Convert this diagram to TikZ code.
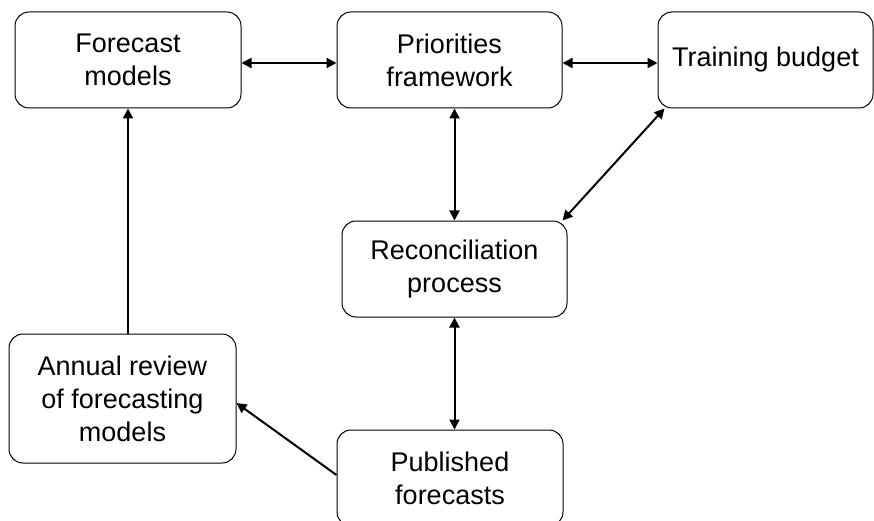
\documentclass[tikz,border=0pt]{standalone}
\usepackage{fontspec}
\setmainfont{Liberation Sans}
\usetikzlibrary{arrows.meta,calc}
\begin{document}
\begin{tikzpicture}[x=1pt,y=-1pt,
  box/.style={draw=black, line width=1pt, rounded corners=14pt, align=center,
    inner sep=0pt, font=\fontsize{27}{33}\selectfont, text=black},
  link/.style={line width=2pt, {Triangle[length=10pt,width=10pt]}-{Triangle[length=10pt,width=10pt]}},
  onelink/.style={line width=2pt, -{Triangle[length=10pt,width=10pt]}}]
\useasboundingbox[fill=white] (0,0) rectangle (874,521);
\node[box, minimum width=226pt, minimum height=96pt] (fm) at (128,60) {Forecast\\models};
\node[box, minimum width=225pt, minimum height=96pt] (pf) at (449.5,60) {Priorities\\framework};
\node[box, minimum width=215pt, minimum height=96pt] (tb) at (765.5,60) {Training budget};
\node[box, minimum width=225pt, minimum height=96pt] (rc) at (454.5,269) {Reconciliation\\process};
\node[box, minimum width=227pt, minimum height=129pt] (ar) at (122.5,398.5) {Annual review\\of forecasting\\models};
\node[box, minimum width=226pt, minimum height=96pt] (pb) at (450,478) {Published\\forecasts};
\draw[link] ($(fm.east)+(0,3)$) -- ($(pf.west)+(0,3)$);
\draw[link] ($(pf.east)+(0,3)$) -- ($(tb.west)+(0,3)$);
\draw[link] (rc.north |- pf.south) -- (rc.north);
\draw[link] ($(tb.south west)+(7,0)$) -- ($(rc.north east)+(-5,0)$);
\draw[link] (rc.south) -- (rc.south |- pb.north);
\draw[onelink] ($(pb.west)+(0,-3)$) -- ($(ar.east)+(0,4.5)$);
\draw[onelink] (fm.south |- ar.north) -- (fm.south);
\end{tikzpicture}
\end{document}
